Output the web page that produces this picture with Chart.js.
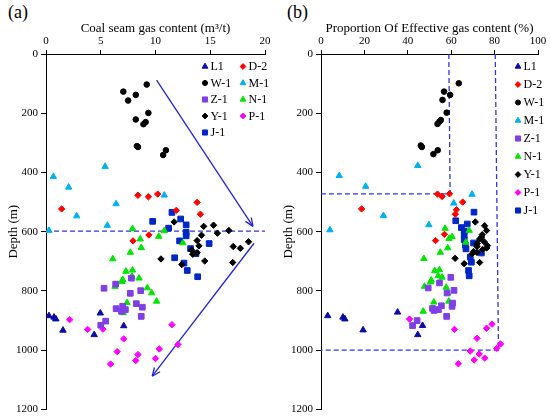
<!DOCTYPE html>
<html>
<head>
<meta charset="utf-8">
<script src="https://cdn.jsdelivr.net/npm/chart.js@4.4.1/dist/chart.umd.min.js"></script>
<style>
  body { margin: 0; background: #fff; width: 550px; height: 419px; position: relative; overflow: hidden; font-family: 'Liberation Serif', 'Times New Roman', serif; }
  canvas { position: absolute; top: 0; }
  #chartA { left: 0; }
  #chartB { left: 275px; }
  .tag { position: absolute; top: 2px; font-size: 18px; color: #000; }
</style>
</head>
<body>
<div class="tag" style="left:8px">(a)</div>
<div class="tag" style="left:287px">(b)</div>
<canvas id="chartA" width="275" height="419"></canvas>
<canvas id="chartB" width="275" height="419"></canvas>
<script>
// well names, same order in both panels
const wells = ["L1", "D-2", "W-1", "M-1", "Z-1", "N-1", "Y-1", "P-1", "J-1"];

// panel (a): [gas content m3/t, depth m]
const gasL1 = [[0.27,884],[0.73,889],[0.9,895],[1.55,933],[4.96,875],[7.1,918],[4.4,948]];
const gasD2 = [[1.43,523],[8.4,477],[9.35,482],[10.2,473],[11.9,528],[13.8,501],[14.1,541],[9.4,611],[7.95,631]];
const gasW1 = [[9.2,103],[7.06,127],[8.2,138],[7.5,157],[9.35,199],[8.2,221],[9.1,230],[8.9,237],[8.3,311],[8.4,314],[10.95,325],[10.7,341]];
const gasM1 = [[5.4,380],[0.67,414],[2.07,450],[10.8,477],[6.4,506],[2.8,547],[5.6,579],[0.27,596]];
const gasZ1 = [[7.8,757],[6.36,777],[5.3,791],[8.65,799],[7.7,808],[8.25,843],[7.0,852],[8.8,855],[6.4,860],[7.25,863],[6.9,869],[8.7,886],[5.45,902],[5.0,916]];
const gasN1 = [[7.9,590],[10.8,597],[10.3,616],[8.6,625],[12.5,638],[8.7,654],[7.7,670],[6.1,692],[7.9,730],[7.3,734],[7.85,751],[8.5,757],[7.0,762],[6.94,769],[6.3,785],[9.25,790],[9.65,807],[10.1,835],[7.4,840],[7.06,874]];
const gasY1 = [[11.7,567],[15.3,578],[14.4,582],[16.7,596],[15.65,605],[14.2,612],[13.8,630],[18.5,634],[13.97,648],[17.1,650],[17.75,656],[13.3,662],[13.8,671],[13.4,676],[10.5,692],[14.5,699],[17.05,704],[12.4,711]];
const gasP1 = [[2.16,897],[3.8,930],[5.2,929],[7.1,962],[11.5,914],[12.05,981],[10.35,996],[8.4,1015],[6.5,1005],[8.2,1035],[10.0,1028],[5.9,1047]];
const gasJ1 = [[11.5,535],[12.3,557],[9.74,565],[12.8,577],[11.2,588],[12.8,602],[12.8,614],[12.2,631],[14.9,640],[13.2,657],[13.7,674],[11.75,688],[12.6,706],[12.9,731],[13.85,752]];

// panel (b): [effective proportion %, depth m]
const effL1 = [[3.1,884],[10.1,889],[11,895],[19.4,932],[35.3,872],[46.8,917],[44.6,948]];
const effD2 = [[18.7,523],[53.7,473],[55.8,481],[59.2,472],[65.3,500],[62.4,526],[61.9,541],[56.9,609],[52.8,630]];
const effW1 = [[63.5,99],[56.7,127],[59.5,138],[56,155],[57.9,198],[55.2,223],[54.6,228],[53.7,236],[46,309],[46.5,314],[53.8,325],[51.8,338]];
const effM1 = [[44.6,377],[8.4,411],[20.6,447],[69.6,474],[61.2,504],[28.8,546],[49.7,577],[4.1,594]];
const effZ1 = [[59.8,754],[54.6,773],[49.4,790],[61.3,798],[58.1,807],[60.7,841],[55.5,850],[60.4,852],[51.4,859],[54.1,863],[52.1,866],[57.9,886],[44.3,900],[42.2,917]];
const effN1 = [[57.2,589],[68.3,596],[60.4,617],[59,623],[66.7,636],[58.4,655],[55,670],[47.4,691],[54.6,729],[52.4,732],[54,749],[55.8,754],[50.8,764],[50.5,770],[47.7,785],[57.7,788],[58.4,807],[58.9,835],[52,838],[47.1,869]];
const effY1 = [[71.1,567],[75.4,580],[76.3,596],[74.3,610],[74,618],[73.1,625],[75.2,634],[72,640],[76.7,647],[71.9,650],[76.3,655],[74.5,660],[70.3,667],[71.9,670],[69.6,675],[61.8,690],[73.1,704],[66,708]];
const effP1 = [[40.8,895],[61.5,930],[71.9,960],[76.3,926],[78.8,912],[82.7,979],[81.0,994],[68.8,1003],[72.9,1013],[75.5,1027],[70.6,1033],[63.3,1046]];
const effJ1 = [[70.5,534],[62.1,563],[67.4,574],[64.7,586],[66,599],[66,612],[66,627],[70.3,638],[66.5,645],[66.8,658],[73.9,672],[68.8,686],[69.3,703],[68,731],[68.3,749]];

// guide lines
const arrowDown = [[10.1,88],[18.9,582]];
const arrowBack = [[19.0,639],[9.7,1088]];
const splitA = [[0,598],[20,598]];
const boundB1 = [[58.9,0],[59.5,472],[0,472]];
const boundB2 = [[80.3,0],[81.8,1000],[0,1000]];

const gasTicks = [0, 5, 10, 15, 20];
const effTicks = [0, 20, 40, 60, 80, 100];
const depthTicks = [0, 200, 400, 600, 800, 1000, 1200];

// marker style per well
const looks = [
  { color: "#0a0aa8", shape: "triangle", r: 3.7 },
  { color: "#ff0000", shape: "rectRot", r: 3.2 },
  { color: "#000000", shape: "circle", r: 2.8 },
  { color: "#00b0f0", shape: "triangle", r: 3.7 },
  { color: "#7f3fe6", shape: "rect", r: 4 },
  { color: "#00e600", shape: "triangle", r: 3.7 },
  { color: "#000000", shape: "rectRot", r: 3.2 },
  { color: "#ff00ff", shape: "rectRot", r: 3.2 },
  { color: "#0026c8", shape: "rect", r: 4 }
];

const FONT = "'Liberation Serif', 'Times New Roman', serif";
Chart.defaults.font.family = FONT;
Chart.defaults.color = "#000";

const toXY = arr => arr.map(p => ({ x: p[0], y: p[1] }));

function pointSets(lists) {
  return lists.map((list, i) => ({
    label: wells[i],
    data: toXY(list),
    pointStyle: looks[i].shape,
    pointRadius: looks[i].r,
    backgroundColor: looks[i].color,
    borderColor: looks[i].color,
    borderWidth: 1,
    inLegend: true
  }));
}

function guide(list, dashed, arrow) {
  return {
    label: "",
    data: toXY(list),
    showLine: true,
    pointRadius: 0,
    borderColor: dashed ? "#3535d8" : "#2424d8",
    borderWidth: 1.3,
    borderDash: dashed ? [5, 3] : [],
    fill: false,
    arrowHead: arrow,
    order: 5
  };
}

// arrow heads at the end of guide lines
const arrowPlugin = {
  id: "arrowPlugin",
  afterDatasetsDraw(chart) {
    const ctx = chart.ctx;
    chart.data.datasets.forEach((ds, i) => {
      if (!ds.arrowHead) return;
      const pts = chart.getDatasetMeta(i).data;
      const a = pts[pts.length - 2], b = pts[pts.length - 1];
      const ang = Math.atan2(b.y - a.y, b.x - a.x);
      ctx.save();
      ctx.strokeStyle = ds.borderColor;
      ctx.lineWidth = 1.3;
      ctx.beginPath();
      [-0.4, 0.4].forEach(d => {
        ctx.moveTo(b.x, b.y);
        ctx.lineTo(b.x - 9 * Math.cos(ang + d), b.y - 9 * Math.sin(ang + d));
      });
      ctx.stroke();
      ctx.restore();
    });
  }
};

// legend laid out in a grid inside the plot
const gridLegend = {
  id: "gridLegend",
  afterDraw(chart, args, opts) {
    const ctx = chart.ctx;
    const items = chart.data.datasets.filter(d => d.inLegend);
    ctx.save();
    ctx.font = "12px " + FONT;
    ctx.textBaseline = "middle";
    items.forEach((ds, k) => {
      const col = k % opts.cols, row = Math.floor(k / opts.cols);
      const x = opts.x + col * opts.colW, y = opts.y + row * opts.rowH;
      ctx.fillStyle = ds.backgroundColor;
      ctx.strokeStyle = ds.borderColor;
      ctx.lineWidth = 1;
      Chart.helpers.drawPoint(ctx, { pointStyle: ds.pointStyle, radius: ds.pointRadius * 0.9, rotation: 0, borderWidth: 1 }, x, y);
      ctx.fillStyle = "#000";
      ctx.fillText(ds.label, x + 5.5, y + 0.5);
    });
    ctx.restore();
  }
};

function makeChart(id, sets, xMax, xTicks, xTitle, rightPad, legendOpts) {
  return new Chart(document.getElementById(id), {
    type: "scatter",
    data: { datasets: sets },
    options: {
      responsive: false,
      animation: false,
      layout: { padding: { left: 0, top: 0, right: rightPad, bottom: 9 } },
      plugins: { legend: { display: false }, tooltip: { enabled: false }, gridLegend: legendOpts },
      scales: {
        x: {
          type: "linear", position: "top", min: 0, max: xMax,
          afterBuildTicks: s => { s.ticks = xTicks.map(v => ({ value: v })); },
          ticks: { font: { size: 11 }, padding: 2, maxRotation: 0, color: "#000", callback: v => String(v) },
          grid: { drawOnChartArea: false, drawTicks: true, tickLength: 4, color: "#000" },
          border: { display: true, color: "#000", width: 1 },
          title: { display: true, text: xTitle, font: { size: 13 }, padding: { top: 21, bottom: 0 }, color: "#000" },
          afterFit: s => { s.height = 54; }
        },
        y: {
          type: "linear", min: 0, max: 1200, reverse: true,
          afterBuildTicks: s => { s.ticks = depthTicks.map(v => ({ value: v })); },
          ticks: { font: { size: 11 }, padding: 3, color: "#000", callback: v => String(v) },
          grid: { drawOnChartArea: false, drawTicks: true, tickLength: 5, color: "#000" },
          border: { display: true, color: "#000", width: 1 },
          title: { display: true, text: "Depth (m)", font: { size: 13 }, padding: { top: 6, bottom: 0 }, color: "#000" },
          afterFit: s => { s.width = 46; }
        }
      }
    },
    plugins: [arrowPlugin, gridLegend]
  });
}

makeChart("chartA",
  pointSets([gasL1, gasD2, gasW1, gasM1, gasZ1, gasN1, gasY1, gasP1, gasJ1]).concat([
    guide(splitA, true, false), guide(arrowDown, false, true), guide(arrowBack, false, true)
  ]),
  20, gasTicks, "Coal seam gas content (m³/t)", 10,
  { x: 205, y: 66.5, cols: 2, colW: 38, rowH: 16.5 });

makeChart("chartB",
  pointSets([effL1, effD2, effW1, effM1, effZ1, effN1, effY1, effP1, effJ1]).concat([
    guide(boundB1, true, false), guide(boundB2, true, false)
  ]),
  100, effTicks, "Proportion Of Effective gas content (%)", 12,
  { x: 243, y: 66.5, cols: 1, colW: 0, rowH: 18 });
</script>
</body>
</html>
